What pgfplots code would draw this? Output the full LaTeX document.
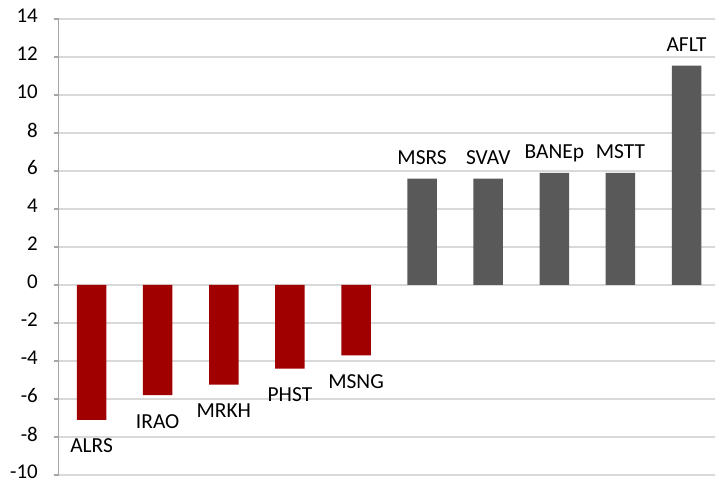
\documentclass[border=0pt]{standalone}
\usepackage{fontspec}
\setmainfont{Carlito}
\usepackage{pgfplots}
\pgfplotsset{compat=1.18}

\definecolor{negred}{RGB}{160,0,0}
\definecolor{posgray}{RGB}{89,89,89}
\definecolor{gridgray}{RGB}{217,217,217}
\definecolor{axisgray}{RGB}{166,166,166}

\begin{document}
\begin{tikzpicture}[x=1bp,y=1bp]
\useasboundingbox (0,0) rectangle (715,484);
\begin{axis}[
  at={(58.5bp,9bp)}, anchor=south west,
  scale only axis, width=656.5bp, height=456bp,
  xmin=-0.5, xmax=9.43,
  ymin=-10, ymax=14,
  ytick={-10,-8,...,14},
  axis x line=none,
  axis y line*=left,
  y axis line style={draw=axisgray, line width=1.4pt, -},
  ytick style={draw=axisgray, line width=1.4pt},
  major tick length=5bp,
  tick align=outside,
  ymajorgrids,
  grid style={draw=gridgray, line width=1.4pt},
  yticklabel style={font=\fontsize{21}{25}\selectfont, inner sep=0pt, xshift=-15.5bp, yshift=3bp},
  /pgf/number format/assume math mode=true,
  clip=false,
  point meta=explicit symbolic,
  nodes near coords,
  every node near coord/.append style={font=\fontsize{21.5}{25}\selectfont, text=black, anchor=base, inner sep=0pt},
]
\addplot[ybar, bar width=29.5bp, bar shift=0pt, fill=negred, draw=none,
  every node near coord/.append style={yshift=-33bp}]
  coordinates {
    (0,-7.1) [ALRS]
    (1,-5.8) [IRAO]
    (2,-5.25) [MRKH]
    (3,-4.4) [PHST]
    (4,-3.7) [MSNG]
  };
\addplot[ybar, bar width=29.5bp, bar shift=0pt, fill=posgray, draw=none,
  every node near coord/.append style={yshift=14bp}]
  coordinates {
    (5,5.6) [MSRS]
    (6,5.6) [SVAV]
    (7,5.9) [BANEp]
    (8,5.9) [MSTT]
    (9,11.55) [AFLT]
  };
\end{axis}
\end{tikzpicture}
\end{document}
